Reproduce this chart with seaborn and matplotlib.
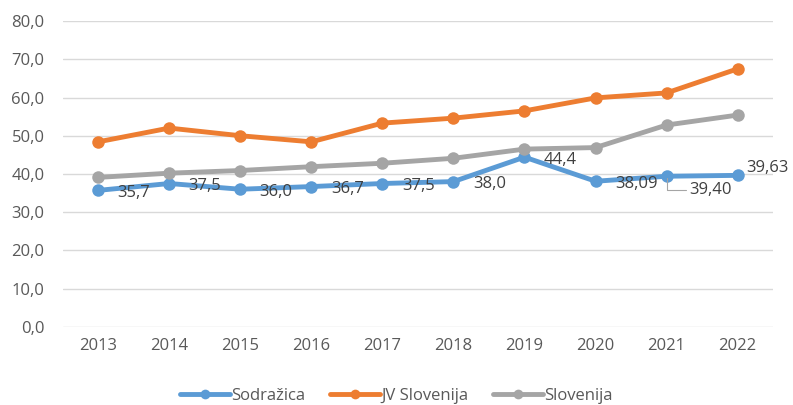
import pandas as pd
import matplotlib.pyplot as plt
import seaborn as sns
from matplotlib.ticker import FuncFormatter

# Values
years = [2013, 2014, 2015, 2016, 2017, 2018, 2019, 2020, 2021, 2022]
sodrazica = [35.7, 37.5, 36.0, 36.7, 37.5, 38.0, 44.4, 38.09, 39.40, 39.63]
jv_slovenija = [48.4, 52.0, 50.0, 48.4, 53.3, 54.6, 56.5, 59.9, 61.2, 67.5]
slovenija = [39.1, 40.2, 40.9, 41.9, 42.8, 44.1, 46.5, 46.9, 52.8, 55.4]
sodrazica_labels = ["35,7", "37,5", "36,0", "36,7", "37,5", "38,0", "44,4", "38,09", "39,40", "39,63"]
series_names = ["Sodražica", "JV Slovenija", "Slovenija"]
colors = ["#5B9BD5", "#ED7D31", "#A5A5A5"]

df = pd.DataFrame({
    "x": list(range(len(years))) * 3,
    "value": sodrazica + jv_slovenija + slovenija,
    "series": [s for s in series_names for _ in years],
})

sns.set_style("white")
plt.rcParams["font.family"] = ["Open Sans", "DejaVu Sans"]
fs = 12

fig = plt.figure(figsize=(7.93, 4.05), dpi=100)
ax = fig.add_axes([0.079, 0.193, 0.896, 0.755])

sns.lineplot(data=df, x="x", y="value", hue="series", hue_order=series_names,
             palette=colors, marker="o", markersize=9, markeredgewidth=0,
             linewidth=3.5, ax=ax, legend=False, zorder=3)

ax.set_xlim(-0.5, len(years) - 0.5)
ax.set_ylim(0, 80)
ax.set_yticks(range(0, 81, 10))
ax.yaxis.set_major_formatter(FuncFormatter(lambda v, p: f"{v:.1f}".replace(".", ",")))
ax.set_xticks(range(len(years)))
ax.set_xticklabels([str(y) for y in years])
ax.grid(axis="y", color="#D9D9D9", linewidth=1)
ax.set_axisbelow(True)
for s in ax.spines.values():
    s.set_visible(False)
ax.tick_params(axis="both", length=0, labelsize=fs, colors="#595959")
ax.tick_params(axis="y", pad=13)
ax.tick_params(axis="x", pad=8)
ax.set_xlabel("")
ax.set_ylabel("")

# data labels for Sodražica
for i, (v, lab) in enumerate(zip(sodrazica, sodrazica_labels)):
    if i == 8:
        ax.annotate(lab, (i, v), xytext=(16, -10), textcoords="offset points",
                    fontsize=fs, color="#404040", va="center", ha="left",
                    arrowprops=dict(arrowstyle="-", color="#A5A5A5", lw=0.8,
                                    shrinkA=0, shrinkB=1,
                                    connectionstyle="angle,angleA=0,angleB=90,rad=0"))
    elif i == 9:
        ax.annotate(lab, (i, v), xytext=(6, 5), textcoords="offset points",
                    fontsize=fs, color="#404040", va="center", ha="left")
    else:
        ax.annotate(lab, (i, v), xytext=(14, -2), textcoords="offset points",
                    fontsize=fs, color="#404040", va="center", ha="left")

handles = [plt.Line2D([], [], color=c, marker="o", markersize=7, linewidth=3.5,
                      markeredgewidth=0) for c in colors]
fig.legend(handles, series_names, loc="lower center", bbox_to_anchor=(0.5, -0.035),
           ncol=3, frameon=False, fontsize=fs, handlelength=3.0,
           handletextpad=0.05, columnspacing=1.5, labelcolor="#595959")

fig.savefig("out.png", dpi=100)
